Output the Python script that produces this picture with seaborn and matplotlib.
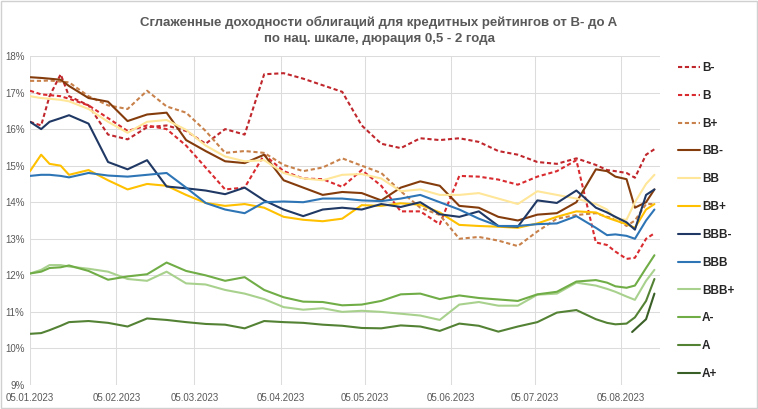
import numpy as np
import pandas as pd
import matplotlib
matplotlib.use("Agg")
import matplotlib.pyplot as plt
from matplotlib.ticker import FuncFormatter, MultipleLocator
from matplotlib.patches import Rectangle
import seaborn as sns

# ---------------- data ----------------
dates = ["2023-01-05", "2023-01-09", "2023-01-12", "2023-01-16", "2023-01-19", "2023-01-26",
         "2023-02-02", "2023-02-09", "2023-02-16", "2023-02-23", "2023-03-02", "2023-03-09",
         "2023-03-16", "2023-03-23", "2023-03-30", "2023-04-06", "2023-04-13", "2023-04-20",
         "2023-04-27", "2023-05-04", "2023-05-11", "2023-05-18", "2023-05-25", "2023-06-01",
         "2023-06-08", "2023-06-15", "2023-06-22", "2023-06-29", "2023-07-06", "2023-07-13",
         "2023-07-20", "2023-07-27", "2023-07-31", "2023-08-03", "2023-08-07", "2023-08-10",
         "2023-08-14", "2023-08-17"]

ratings = ["B-", "B", "B+", "BB-", "BB", "BB+", "BBB-", "BBB", "BBB+", "A-", "A", "A+"]

y_b_minus = [16.2, 16.1, 16.9, 17.5, 16.9, 16.65, 15.85, 15.72, 16.05, 16.1, 15.95, 15.6,
             16.0, 15.85, 17.5, 17.53, 17.38, 17.2, 17.02, 16.1, 15.6, 15.48, 15.75, 15.7,
             15.75, 15.65, 15.4, 15.3, 15.1, 15.05, 15.2, 15.02, 14.88, 14.85, 14.8, 14.67,
             15.3, 15.45]
y_b = [17.05, 16.95, 16.93, 16.9, 16.83, 16.65, 16.3, 15.95, 16.1, 16.0, 15.55, 14.95,
       14.35, 14.4, 15.3, 14.85, 14.65, 14.63, 14.42, 14.88, 14.45, 13.75, 13.75, 13.4,
       14.72, 14.7, 14.62, 14.48, 14.7, 14.85, 15.15, 12.9, 12.83, 12.65, 12.45, 12.48,
       13.0, 13.15]
y_b_plus = [17.32, 17.32, 17.33, 17.3, 17.28, 16.9, 16.65, 16.55, 17.05, 16.62, 16.45, 15.95,
            15.35, 15.4, 15.35, 15.02, 14.85, 14.95, 15.2, 15.0, 14.8, 14.3, 13.85, 13.65,
            13.0, 13.05, 12.95, 12.8, 13.2, 13.55, 13.65, 13.7, 13.6, 13.55, 13.35, 13.5,
            13.95, 13.95]
y_bb_minus = [17.42, 17.4, 17.38, 17.35, 17.18, 16.85, 16.75, 16.22, 16.4, 16.45, 15.7, 15.4,
              15.12, 15.07, 15.3, 14.6, 14.4, 14.2, 14.28, 14.25, 14.05, 14.4, 14.57, 14.45,
              13.9, 13.85, 13.6, 13.5, 13.66, 13.7, 14.0, 14.9, 14.85, 14.7, 14.63, 13.85,
              14.0, 14.35]
y_bb = [16.9, 16.85, 16.83, 16.8, 16.76, 16.55, 16.2, 15.9, 16.2, 16.25, 15.98, 15.55,
        15.25, 15.12, 15.15, 14.8, 14.65, 14.6, 14.75, 14.77, 14.65, 14.3, 14.35, 14.2,
        14.2, 14.25, 14.1, 13.95, 14.3, 14.2, 14.1, 13.95, 13.8, 13.55, 13.52, 14.0,
        14.5, 14.75]
y_bb_plus = [14.85, 15.3, 15.05, 15.0, 14.75, 14.88, 14.6, 14.35, 14.5, 14.45, 14.2, 13.98,
             13.9, 13.95, 13.85, 13.6, 13.52, 13.48, 13.55, 13.92, 13.9, 13.97, 13.93, 13.72,
             13.38, 13.35, 13.33, 13.3, 13.42, 13.6, 13.75, 13.72, 13.58, 13.5, 13.4, 13.3,
             13.8, 13.95]
y_bbb_minus = [16.2, 16.0, 16.2, 16.3, 16.38, 16.15, 15.1, 14.9, 15.15, 14.43, 14.38, 14.32,
               14.22, 14.4, 14.05, 13.8, 13.62, 13.8, 13.85, 13.8, 13.95, 13.87, 14.0, 13.67,
               13.6, 13.75, 13.35, 13.33, 14.05, 13.98, 14.32, 13.85, 13.72, 13.6, 13.45, 13.25,
               14.2, 14.35]
y_bbb = [14.72, 14.75, 14.75, 14.72, 14.68, 14.8, 14.73, 14.7, 14.75, 14.8, 14.4, 13.98,
         13.8, 13.7, 14.0, 14.02, 14.0, 14.1, 14.1, 14.05, 14.03, 14.1, 14.2, 14.0,
         13.8, 13.55, 13.35, 13.35, 13.4, 13.42, 13.62, 13.3, 13.1, 13.12, 13.08, 13.0,
         13.5, 13.8]
y_bbb_plus = [12.05, 12.15, 12.28, 12.28, 12.24, 12.18, 12.1, 11.9, 11.85, 12.1, 11.78, 11.75,
              11.6, 11.5, 11.35, 11.13, 11.06, 11.1, 11.0, 11.03, 11.0, 10.95, 10.9, 10.78,
              11.2, 11.27, 11.17, 11.17, 11.47, 11.5, 11.8, 11.72, 11.63, 11.55, 11.42, 11.33,
              11.85, 12.15]
y_a_minus = [12.05, 12.1, 12.2, 12.22, 12.27, 12.12, 11.88, 11.97, 12.03, 12.35, 12.12, 12.0,
             11.85, 11.95, 11.6, 11.4, 11.28, 11.27, 11.18, 11.2, 11.3, 11.48, 11.5, 11.35,
             11.45, 11.38, 11.34, 11.3, 11.48, 11.55, 11.83, 11.87, 11.8, 11.7, 11.66, 11.72,
             12.2, 12.55]
y_a = [10.4, 10.42, 10.5, 10.62, 10.72, 10.75, 10.7, 10.6, 10.82, 10.78, 10.72, 10.67,
       10.65, 10.55, 10.75, 10.72, 10.7, 10.65, 10.62, 10.56, 10.55, 10.63, 10.6, 10.48,
       10.68, 10.62, 10.46, 10.6, 10.72, 10.98, 11.05, 10.8, 10.7, 10.66, 10.68, 10.85,
       11.3, 11.9]
a_plus_dates = ["2023-08-09", "2023-08-14", "2023-08-17"]
y_a_plus = [10.45, 10.8, 11.5]

x_tick_dates = ["2023-01-05", "2023-02-05", "2023-03-05", "2023-04-05",
                "2023-05-05", "2023-06-05", "2023-07-05", "2023-08-05"]
x_tick_labels = ["05.01.2023", "05.02.2023", "05.03.2023", "05.04.2023",
                 "05.05.2023", "05.06.2023", "05.07.2023", "05.08.2023"]

title = ("Сглаженные доходности облигаций для кредитных рейтингов от B- до A\n"
         "по нац. шкале, дюрация 0,5 - 2 года")

# ---------------- styles ----------------
colors = {"B-": "#C0272D", "B": "#D92B2F", "B+": "#C8814A", "BB-": "#843C0C",
          "BB": "#FFE699", "BB+": "#FFC000", "BBB-": "#1F3864", "BBB": "#2E75B6",
          "BBB+": "#A9D18E", "A-": "#70AD47", "A": "#548235", "A+": "#3A5F26"}
dash_map = {r: "" for r in ratings}
for r in ["B-", "B", "B+"]:
    dash_map[r] = (2.0, 1.3)

series = {"B-": (dates, y_b_minus), "B": (dates, y_b), "B+": (dates, y_b_plus),
          "BB-": (dates, y_bb_minus), "BB": (dates, y_bb), "BB+": (dates, y_bb_plus),
          "BBB-": (dates, y_bbb_minus), "BBB": (dates, y_bbb), "BBB+": (dates, y_bbb_plus),
          "A-": (dates, y_a_minus), "A": (dates, y_a), "A+": (a_plus_dates, y_a_plus)}

frames = []
for r in ratings:
    d, v = series[r]
    frames.append(pd.DataFrame({"date": pd.to_datetime(d), "value": v, "rating": r}))
df = pd.concat(frames, ignore_index=True)

sns.set_theme(style="white")
plt.rcParams["font.family"] = ["Liberation Sans", "DejaVu Sans"]

W, H = 758, 409
fig = plt.figure(figsize=(W / 100, H / 100), dpi=100)
ax = fig.add_axes([30 / W, 1 - 385 / H, 630 / W, 329 / H])

sns.lineplot(data=df, x="date", y="value", hue="rating", style="rating",
             hue_order=ratings, style_order=ratings, palette=colors, dashes=dash_map,
             linewidth=1.5, estimator=None, ax=ax, legend=True)

ax.set_xlim(pd.Timestamp("2023-01-05"), pd.Timestamp("2023-08-19"))
ax.set_ylim(9, 18)
ax.yaxis.set_major_locator(MultipleLocator(1))
ax.yaxis.set_major_formatter(FuncFormatter(lambda v, p: f"{v:.0f}%"))
ax.set_xticks(pd.to_datetime(x_tick_dates))
ax.set_xticklabels(x_tick_labels)
ax.grid(True, color="#DCDCDC", linewidth=0.75)
ax.set_axisbelow(True)
for s in ax.spines.values():
    s.set_visible(False)
ax.tick_params(axis="both", length=0, labelsize=7, colors="#595959")
ax.tick_params(axis="x", pad=6)
ax.tick_params(axis="y", pad=4)
ax.set_xlabel("")
ax.set_ylabel("")

handles, labels = ax.get_legend_handles_labels()
ax.get_legend().remove()
for h in handles:
    h.set_linewidth(1.5)
leg = fig.legend(handles, labels, loc="upper left", bbox_to_anchor=(678 / W, 1 - 62 / H),
                 frameon=False, fontsize=8.5, handlelength=1.9, handletextpad=0.15,
                 labelspacing=1.34, borderpad=0, borderaxespad=0)
for t in leg.get_texts():
    t.set_fontweight("bold")
    t.set_color("#262626")

fig.text(0.5, 1 - 30.5 / H, title, ha="center", va="center", fontsize=9.5,
         fontweight="bold", color="#595959", linespacing=1.45)

fig.patches.append(Rectangle((0.001, 0.002), 0.998, 0.996, transform=fig.transFigure,
                             fill=False, edgecolor="#D0D0D0", linewidth=1))

fig.savefig("out.png", dpi=100)
